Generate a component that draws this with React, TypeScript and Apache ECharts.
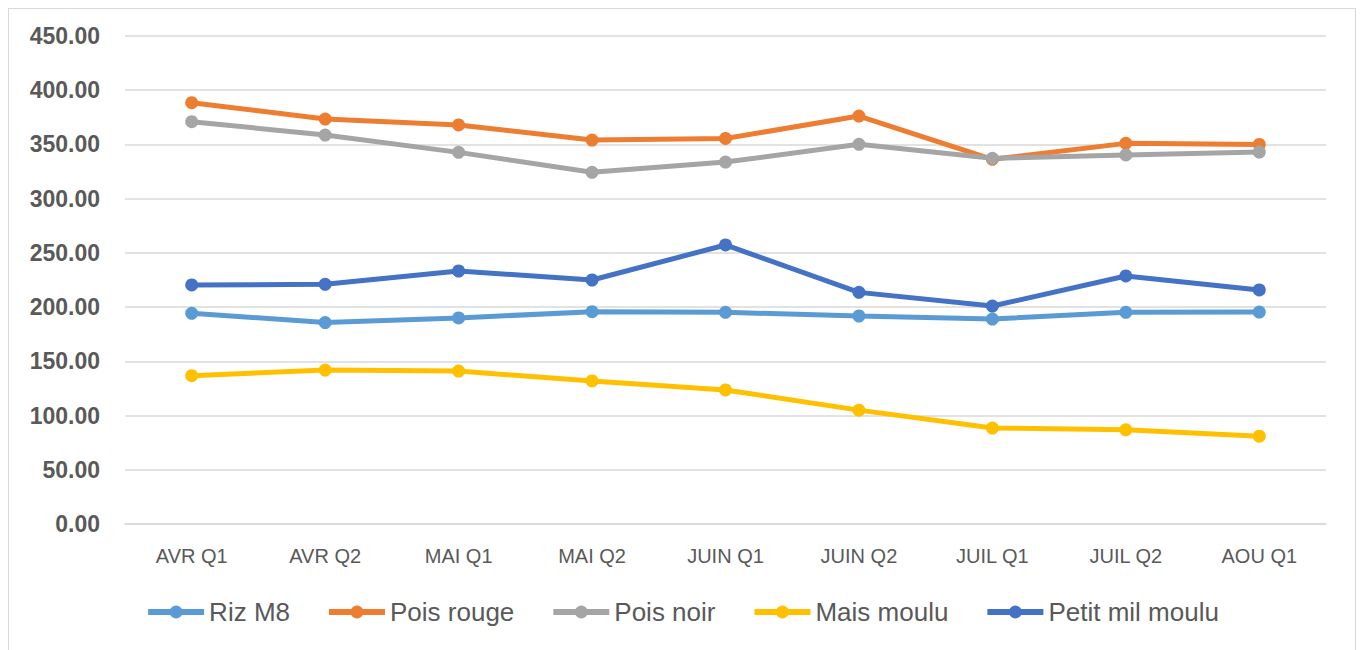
import React, { useEffect, useRef } from "react";
import * as echarts from "echarts";

const categories = ["AVR Q1", "AVR Q2", "MAI Q1", "MAI Q2", "JUIN Q1", "JUIN Q2", "JUIL Q1", "JUIL Q2", "AOU Q1"];
const rizM8 = [194.3, 185.8, 190.0, 195.8, 195.2, 191.8, 189.0, 195.2, 195.4];
const poisRouge = [388.5, 373.4, 368.0, 354.0, 355.5, 376.2, 336.3, 351.0, 350.0];
const poisNoir = [371.0, 358.7, 342.7, 324.3, 333.8, 350.1, 337.2, 340.3, 343.0];
const maisMoulu = [136.8, 142.0, 141.0, 131.9, 123.6, 105.0, 88.5, 86.9, 81.0];
const petitMil = [220.4, 221.0, 233.3, 225.0, 257.3, 213.6, 201.0, 228.7, 215.8];
const yTicks = { min: 0, max: 450, interval: 50 };

const seriesDefs = [
  { name: "Riz M8", data: rizM8, color: "#5B9BD5" },
  { name: "Pois rouge", data: poisRouge, color: "#ED7D31" },
  { name: "Pois noir", data: poisNoir, color: "#A5A5A5" },
  { name: "Mais moulu", data: maisMoulu, color: "#FFC000" },
  { name: "Petit mil moulu", data: petitMil, color: "#4472C4" },
];

export default function App() {
  const ref = useRef<HTMLDivElement>(null);
  useEffect(() => {
    if (!ref.current) return;
    const chart = echarts.init(ref.current, undefined, { renderer: "svg" });
    chart.setOption({
      animation: false,
      backgroundColor: "#ffffff",
      grid: { left: 116, top: 27, width: 1201, height: 488, containLabel: false },
      legend: {
        left: "center",
        top: 585,
        itemWidth: 56,
        itemHeight: 16,
        itemGap: 36,
        lineStyle: { width: 6 },
        textStyle: { fontFamily: "Liberation Sans", fontSize: 26, color: "#595959" },
        data: seriesDefs.map((s) => s.name),
      },
      xAxis: {
        type: "category",
        data: categories,
        boundaryGap: true,
        axisLine: { lineStyle: { color: "#D9D9D9", width: 1.5 } },
        axisTick: { show: false },
        axisLabel: { color: "#595959", fontFamily: "Liberation Sans", fontSize: 20, margin: 22 },
      },
      yAxis: {
        type: "value",
        min: yTicks.min,
        max: yTicks.max,
        interval: yTicks.interval,
        axisLine: { show: false },
        axisTick: { show: false },
        splitLine: { lineStyle: { color: "#D9D9D9", width: 1.5 } },
        axisLabel: {
          color: "#595959",
          fontFamily: "Liberation Sans",
          fontWeight: "bold",
          fontSize: 23,
          margin: 25,
          formatter: (v: number) => v.toFixed(2),
        },
      },
      series: seriesDefs.map((s) => ({
        name: s.name,
        type: "line",
        data: s.data,
        symbol: "circle",
        symbolSize: 13,
        color: s.color,
        lineStyle: { width: 5, color: s.color },
        itemStyle: { color: s.color },
      })),
    });
    return () => chart.dispose();
  }, []);
  return (
    <div
      ref={ref}
      style={{ width: 1346, height: 660, border: "1px solid #D9D9D9" }}
    />
  );
}
